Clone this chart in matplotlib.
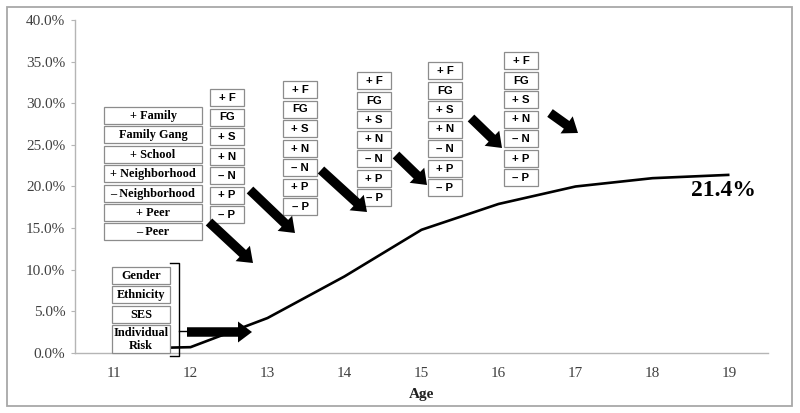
import matplotlib
matplotlib.use("Agg")
import matplotlib.pyplot as plt
from matplotlib.patches import Rectangle, FancyArrow
from matplotlib.lines import Line2D
from matplotlib.ticker import FuncFormatter
import matplotlib.transforms as mtransforms

# ---------------- data ----------------
ages = [11, 12, 13, 14, 15, 16, 17, 18, 19]
rates = [0.5, 0.7, 4.2, 9.2, 14.8, 17.9, 20.0, 21.0, 21.4]
y_ticks = [0, 5, 10, 15, 20, 25, 30, 35, 40]
end_label = "21.4%"
x_title = "Age"
domain_labels = ["+ Family", "Family Gang", "+ School", "+ Neighborhood",
                 "\u2013 Neighborhood", "+ Peer", "\u2013 Peer"]
domain_abbrev = ["+ F", "FG", "+ S", "+ N", "\u2013 N", "+ P", "\u2013 P"]
baseline_labels = ["Gender", "Ethnicity", "SES", "Individual\nRisk"]

# ---------------- layout (pixel positions of annotations) ----------------
W, H = 800, 413
serif = "Liberation Serif"
sans = "Liberation Sans"

fig = plt.figure(figsize=(W / 100, H / 100), dpi=100)
ax = fig.add_axes([75 / W, 60 / H, 693 / W, 333 / H])
T = mtransforms.Affine2D().scale(1 / W, -1 / H).translate(0, 1) + fig.transFigure

# figure frame
fig.add_artist(Rectangle((7, 7), 785, 399, transform=T, fill=False,
                         ec="#a8a8a8", lw=1.3, zorder=0))

ax.plot(ages, rates, color="black", lw=1.9, zorder=2, solid_capstyle="butt")
ax.set_xlim(10.5, 19.5)
ax.set_ylim(0, 40)
ax.set_yticks(y_ticks)
ax.yaxis.set_major_formatter(FuncFormatter(lambda v, p: f"{v:.1f}%"))
ax.set_xticks(ages)
for s in ["top", "right"]:
    ax.spines[s].set_visible(False)
for s in ["left", "bottom"]:
    ax.spines[s].set_color("#b5b5b5")
    ax.spines[s].set_linewidth(1.0)
ax.tick_params(axis="y", direction="out", length=3, width=0.8, color="#b5b5b5",
               pad=4, labelsize=11, labelcolor="#404040")
ax.tick_params(axis="x", length=0, pad=10, labelsize=11, labelcolor="#404040")
for lab in ax.get_xticklabels() + ax.get_yticklabels():
    lab.set_fontfamily(serif)
ax.set_xlabel(x_title, fontfamily=serif, fontweight="bold", fontsize=11,
              labelpad=6, color="#202020")

ax.text(723, 190, end_label, transform=T, ha="center", va="center",
        fontfamily=serif, fontweight="bold", fontsize=17, zorder=6)


def box(x0, y0, x1, y1, text, family, size):
    ax.add_artist(Rectangle((x0, y0), x1 - x0, y1 - y0, transform=T,
                            fc="white", ec="#8c8c8c", lw=0.9, zorder=5,
                            clip_on=False))
    ax.text((x0 + x1) / 2, (y0 + y1) / 2 + 0.5, text, transform=T,
            ha="center", va="center", fontfamily=family, fontweight="bold",
            fontsize=size, zorder=6, clip_on=False, linespacing=1.05)


# big domain column
big_x0, big_x1, big_top, big_step, big_h = 104, 202, 107, 19.4, 17
for i, t in enumerate(domain_labels):
    y0 = big_top + i * big_step
    box(big_x0, y0, big_x1, y0 + big_h, t, serif, 8.8)

# abbreviated columns
cols = [(210, 89), (283, 81), (357, 72), (428, 62), (504, 52)]
step, bh, bw = 19.5, 17, 34
for cx, cy in cols:
    for i, t in enumerate(domain_abbrev):
        y0 = cy + i * step
        box(cx, y0, cx + bw, y0 + bh, t, sans, 8.2)

# baseline boxes
base_rows = [(267, 284), (286, 303), (306, 323), (325, 353)]
for (y0, y1), t in zip(base_rows, baseline_labels):
    box(112, y0, 170, y1, t, serif, 8.8)

# bracket
for xs, ys in [([170, 179, 179, 170], [263, 263, 356, 356]),
               ([179, 188], [331, 331])]:
    ax.add_artist(Line2D(xs, ys, transform=T, color="black", lw=1.0,
                         zorder=5, clip_on=False))

# arrows
arrows = [((187, 332), (252, 332)),
          ((209, 222), (253, 263)),
          ((250, 190), (295, 233)),
          ((321, 170), (367, 212)),
          ((396, 155), (427, 185)),
          ((471, 118), (502, 148)),
          ((550, 113), (578, 133))]
for (x0, y0), (x1, y1) in arrows:
    ax.add_artist(FancyArrow(x0, y0, x1 - x0, y1 - y0, width=9.5,
                             head_width=21, head_length=14,
                             length_includes_head=True, transform=T,
                             fc="black", ec="black", lw=0, zorder=7,
                             clip_on=False))

fig.savefig("out.png", dpi=100)
